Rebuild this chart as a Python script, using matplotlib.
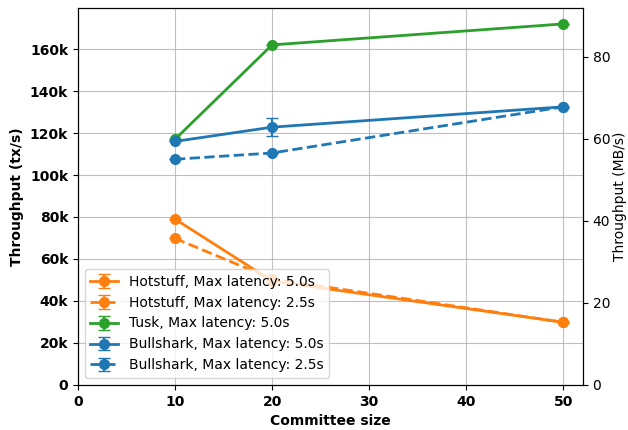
import matplotlib.pyplot as plt
from matplotlib.ticker import FuncFormatter

committee = [10, 20, 50]

hotstuff_5 = [79000, 49500, 29800]
hotstuff_5_err = [0, 0, 0]
hotstuff_25 = [69800, 50500, 29800]
hotstuff_25_err = [0, 0, 0]
tusk_5 = [117000, 162000, 172000]
tusk_5_err = [0, 0, 0]
bullshark_5 = [116000, 122800, 132500]
bullshark_5_err = [0, 4200, 0]
bullshark_25 = [107500, 110500, 132500]
bullshark_25_err = [0, 0, 0]

tx_size = 512  # bytes per tx

fig = plt.figure(figsize=(6.28, 4.30), dpi=100)
ax = fig.add_axes([0.124, 0.105, 0.804, 0.876])

orange = '#ff7f0e'
green = '#2ca02c'
blue = '#1f77b4'
kw = dict(marker='o', markersize=7, linewidth=2, capsize=4, elinewidth=1.5)

ax.errorbar(committee, hotstuff_5, yerr=hotstuff_5_err, color=orange, linestyle='-',
            label='Hotstuff, Max latency: 5.0s', **kw)
ax.errorbar(committee, hotstuff_25, yerr=hotstuff_25_err, color=orange, linestyle='--',
            label='Hotstuff, Max latency: 2.5s', **kw)
ax.errorbar(committee, tusk_5, yerr=tusk_5_err, color=green, linestyle='-',
            label='Tusk, Max latency: 5.0s', **kw)
ax.errorbar(committee, bullshark_5, yerr=bullshark_5_err, color=blue, linestyle='-',
            label='Bullshark, Max latency: 5.0s', **kw)
ax.errorbar(committee, bullshark_25, yerr=bullshark_25_err, color=blue, linestyle='--',
            label='Bullshark, Max latency: 2.5s', **kw)

ymax = 179500
ax.set_xlim(0, 52)
ax.set_ylim(0, ymax)
ax.grid(True, color='#b0b0b0', linewidth=0.8, alpha=0.8)
ax.yaxis.set_major_formatter(FuncFormatter(lambda v, p: '0' if v == 0 else '%dk' % (v / 1000)))
for lab in ax.get_xticklabels() + ax.get_yticklabels():
    lab.set_fontweight('bold')
ax.set_xlabel('Committee size', fontweight='bold')
ax.set_ylabel('Throughput (tx/s)', fontweight='bold')
ax.legend(loc='lower left', fontsize=10)

ax2 = ax.twinx()
ax2.set_ylim(0, ymax * tx_size / 1e6)
ax2.set_ylabel('Throughput (MB/s)', labelpad=2)

fig.savefig('out.png', dpi=100)
